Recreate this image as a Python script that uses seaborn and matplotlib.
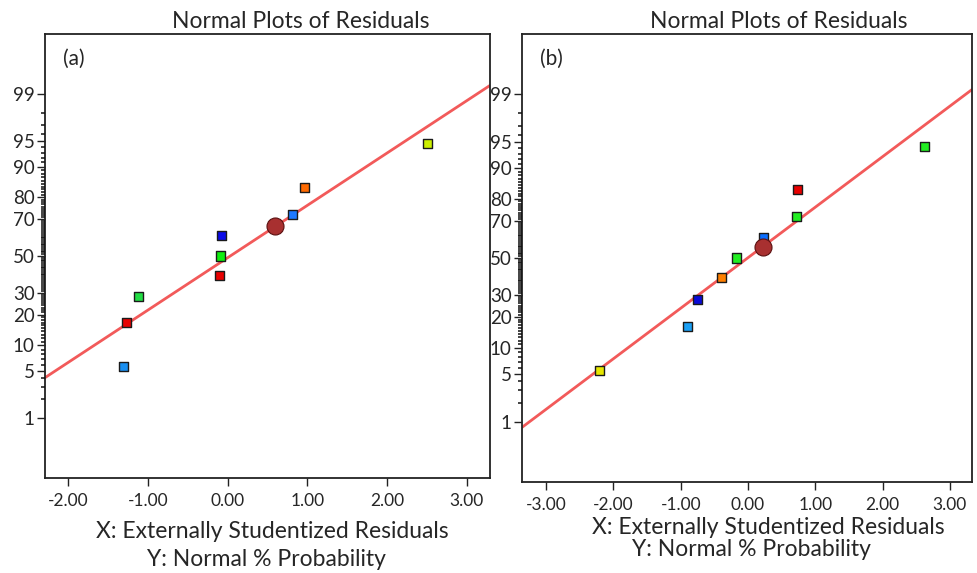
import numpy as np
import matplotlib
matplotlib.use("Agg")
import matplotlib.pyplot as plt
import seaborn as sns
import pandas as pd
from matplotlib.ticker import FixedLocator, NullFormatter
from statistics import NormalDist

# ---- data: (a) ----
a_resid = [-1.30, -1.27, -1.12, -0.10, -0.09, -0.075, 0.81, 0.96, 2.51]
a_prob = [5.6, 16.9, 28.3, 39.2, 50.0, 61.5, 72.5, 83.5, 94.6]
a_colors = ["#1a8ff0", "#e80000", "#22dd44", "#e80000", "#11ee11",
            "#0a0ae8", "#1e78ff", "#ff6a00", "#ccf000"]
a_center_resid = [0.60]
a_center_prob = [66.7]
a_line_mean, a_line_sd = 0.033, 1.333

# ---- data: (b) ----
b_resid = [-2.205, -0.906, -0.753, -0.397, -0.174, 0.227, 0.717, 0.743, 2.62]
b_prob = [5.5, 16.4, 27.6, 39.0, 50.0, 61.2, 72.1, 83.3, 94.4]
b_colors = ["#e6e600", "#1aa0f5", "#0a0ad8", "#ff7f00", "#22ee22",
            "#0a6eff", "#22ee22", "#e80000", "#22ee22"]
b_center_resid = [0.217]
b_center_prob = [56.0]
b_line_mean, b_line_sd = -0.006, 1.395

major_ticks = [1, 5, 10, 20, 30, 50, 70, 80, 90, 95, 99]
minor_ticks = [v for v in range(2, 99) if v not in major_ticks]

ND = NormalDist()
_inv = np.vectorize(lambda p: ND.inv_cdf(p), otypes=[float])
_cdf = np.vectorize(lambda z: ND.cdf(z), otypes=[float])


def prob_forward(p):
    p = np.clip(np.asarray(p, dtype=float) / 100.0, 1e-12, 1 - 1e-12)
    return _inv(p)


def prob_inverse(z):
    z = np.asarray(z, dtype=float)
    return _cdf(z) * 100.0


sns.set_style("white")
plt.rcParams["font.family"] = ["Lato", "DejaVu Sans"]
plt.rcParams["axes.edgecolor"] = "#222222"
plt.rcParams["axes.axisbelow"] = False

fig = plt.figure(figsize=(9.77, 5.73), dpi=100)
ax_a = fig.add_axes([45 / 977, 1 - 478 / 573, 445 / 977, 444 / 573])
ax_b = fig.add_axes([522 / 977, 1 - 482 / 573, 450 / 977, 448 / 573])

line_color = "#f25a5a"
center_color = "#a83030"


def draw_panel(ax, resid, prob, colors, c_resid, c_prob, mean, sd,
               xlim, xticks, tag):
    ax.set_yscale("function", functions=(prob_forward, prob_inverse))

    # fitted normal reference line
    xs = np.linspace(xlim[0], xlim[1], 200)
    dist = NormalDist(mean, sd)
    line_df = pd.DataFrame({"x": xs, "p": [dist.cdf(v) * 100 for v in xs]})
    sns.lineplot(data=line_df, x="x", y="p", ax=ax, color=line_color,
                 linewidth=2.0, zorder=2)

    pts = pd.DataFrame({"resid": resid, "prob": prob,
                        "idx": [str(i) for i in range(len(resid))]})
    sns.scatterplot(data=pts, x="resid", y="prob", hue="idx",
                    palette=colors, marker="s", s=42, edgecolor="#1a1a1a",
                    linewidth=1.0, legend=False, ax=ax, zorder=3)
    cdf_ = pd.DataFrame({"resid": c_resid, "prob": c_prob})
    sns.scatterplot(data=cdf_, x="resid", y="prob", color=center_color,
                    marker="o", s=150, edgecolor="#5a1010", linewidth=0.8,
                    legend=False, ax=ax, zorder=4)

    ax.set_xlim(*xlim)
    ax.set_ylim(float(prob_inverse(-3.18)), float(prob_inverse(3.18)))
    ax.yaxis.set_major_locator(FixedLocator(major_ticks))
    ax.yaxis.set_minor_locator(FixedLocator(minor_ticks))
    ax.set_yticklabels([str(t) for t in major_ticks])
    ax.yaxis.set_minor_formatter(NullFormatter())
    ax.set_xticks(xticks)
    ax.set_xticklabels([f"{t:.2f}" for t in xticks])
    ax.tick_params(axis="both", which="major", direction="out", length=6,
                   width=1.0, color="#222222", labelsize=12.5, pad=2,
                   left=True, bottom=True)
    ax.tick_params(axis="y", which="major", labelsize=13.5, pad=1.5)
    ax.tick_params(axis="y", which="minor", direction="out", length=3.2,
                   width=1.1, color="#111111", left=True)
    ax.tick_params(axis="x", pad=5)
    ax.set_xlabel("")
    ax.set_ylabel("")
    for s in ax.spines.values():
        s.set_linewidth(1.3)
    ax.text(0.04, 0.945, tag, transform=ax.transAxes, fontsize=15,
            ha="left", va="center")


draw_panel(ax_a, a_resid, a_prob, a_colors, a_center_resid, a_center_prob,
           a_line_mean, a_line_sd, (-2.29, 3.29),
           [-2.0, -1.0, 0.0, 1.0, 2.0, 3.0], "(a)")
draw_panel(ax_b, b_resid, b_prob, b_colors, b_center_resid, b_center_prob,
           b_line_mean, b_line_sd, (-3.36, 3.33),
           [-3.0, -2.0, -1.0, 0.0, 1.0, 2.0, 3.0], "(b)")

title = "Normal Plots of Residuals"
fig.text(301 / 977, 1 - 21 / 573, title, ha="center", va="center",
         fontsize=16.5)
fig.text(779 / 977, 1 - 21 / 573, title, ha="center", va="center",
         fontsize=16.5)

fig.text(272 / 977, 1 - 532 / 573, "X: Externally Studentized Residuals",
         ha="center", va="center", fontsize=16.5)
fig.text(266 / 977, 1 - 560 / 573, "Y: Normal % Probability",
         ha="center", va="center", fontsize=16.5)
fig.text(768 / 977, 1 - 527 / 573, "X: Externally Studentized Residuals",
         ha="center", va="center", fontsize=16.5)
fig.text(751 / 977, 1 - 549 / 573, "Y: Normal % Probability",
         ha="center", va="center", fontsize=16.5)

fig.savefig("out.png", dpi=100)
